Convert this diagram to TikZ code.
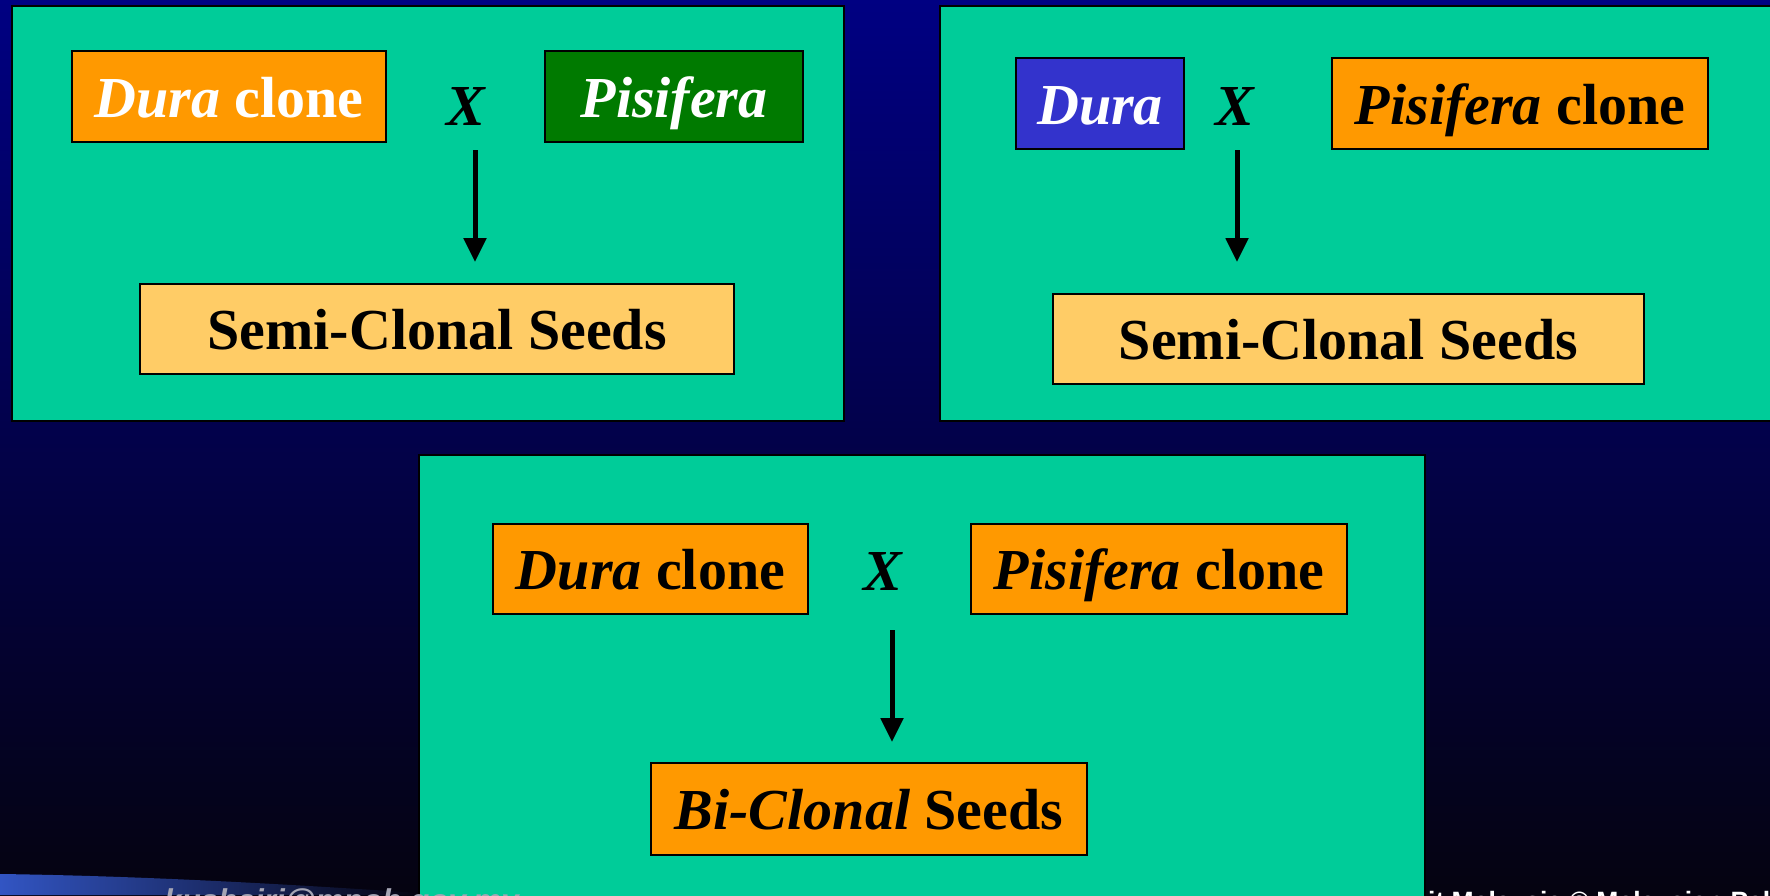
\documentclass[tikz,border=0pt]{standalone}
\usepackage{fontspec}
\setmainfont{Liberation Serif}
\newfontfamily\footsans{Liberation Sans}
\usetikzlibrary{arrows.meta}
\definecolor{panelteal}{RGB}{0,204,153}
\definecolor{boxorange}{RGB}{255,153,0}
\definecolor{boxgreen}{RGB}{0,122,0}
\definecolor{boxblue}{RGB}{51,51,204}
\definecolor{boxlight}{RGB}{255,204,102}
\definecolor{bgtop}{RGB}{0,0,130}
\definecolor{bgmid}{RGB}{2,0,72}
\definecolor{bgbot}{RGB}{5,3,16}
\definecolor{swoosh}{RGB}{50,85,195}
\definecolor{mailgrey}{RGB}{165,165,180}
\begin{document}
\begin{tikzpicture}[x=1pt,y=-1pt,
  panel/.style={draw=black, line width=2.5pt, fill=panelteal},
  box/.style={draw=black, line width=2pt, inner sep=0pt, text height=41pt, text depth=0pt,
    font=\fontsize{58}{62}\selectfont\bfseries},
  cross/.style={inner sep=0pt, font=\fontsize{58}{62}\selectfont\bfseries\itshape},
  arr/.style={line width=5pt, -{Triangle[width=22pt,length=24pt]}}]
\useasboundingbox (0,0) rectangle (1770,895);
% background
\shade[top color=bgtop, middle color=bgmid, bottom color=bgbot] (0,0) rectangle (1770,895);
\shade[left color=swoosh, right color=bgbot] (0,874) .. controls (150,876) and (300,885) .. (420,893) -- (420,895) -- (0,895) -- cycle;
% right footer (behind panel 3)
\node[anchor=base west, inner sep=0pt, text=white, font=\footsans\fontsize{26.5}{28}\selectfont\bfseries] (copy) at (1428,910) {it Malaysia © Malaysian Pal};
% panels
\draw[panel] (12,6) rectangle (844,421);
\draw[panel] (940,6) rectangle (1780,421);
\draw[panel] (419,455) rectangle (1425,905);
% panel 1
\node[box, fill=boxorange, text=white, minimum width=314pt, minimum height=91pt] (d1) at (229,96.5) {\itshape Dura\upshape{} clone};
\node[cross] (x1) at (466,107) {X};
\node[box, fill=boxgreen, text=white, minimum width=258pt, minimum height=91pt] (p1) at (674,96.5) {\itshape Pisifera};
\node[box, fill=boxlight, minimum width=594pt, minimum height=90pt] (s1) at (437,329) {Semi-Clonal Seeds};
\coordinate (a1s) at (475,150);
\coordinate (a1e) at (475,262);
\draw[arr] (a1s) -- (a1e);
% panel 2
\node[box, fill=boxblue, text=white, minimum width=168pt, minimum height=91pt] (d2) at (1100,103.5) {\itshape Dura};
\node[cross] (x2) at (1235,107) {X};
\node[box, fill=boxorange, minimum width=376pt, minimum height=91pt] (p2) at (1520,103.5) {\itshape Pisifera\upshape{} clone};
\node[box, fill=boxlight, minimum width=591pt, minimum height=90pt] (s2) at (1348.5,339) {Semi-Clonal Seeds};
\coordinate (a2s) at (1237,150);
\coordinate (a2e) at (1237,262);
\draw[arr] (a2s) -- (a2e);
% panel 3
\node[box, fill=boxorange, minimum width=315pt, minimum height=90pt] (d3) at (650.5,569) {\itshape Dura\upshape{} clone};
\node[cross] (x3) at (883,572) {X};
\node[box, fill=boxorange, minimum width=376pt, minimum height=90pt] (p3) at (1159,569) {\itshape Pisifera\upshape{} clone};
\node[box, fill=boxorange, minimum width=436pt, minimum height=92pt] (b3) at (869,809) {\itshape Bi-Clonal\upshape{} Seeds};
\coordinate (a3s) at (892,630);
\coordinate (a3e) at (892,742);
\draw[arr] (a3s) -- (a3e);
% left footer
\node[anchor=base west, inner sep=0pt, text=mailgrey, font=\footsans\fontsize{31.5}{33}\selectfont\bfseries\itshape] (mail) at (164,911) {kushairi@mpob.gov.my};
\end{tikzpicture}
\end{document}
